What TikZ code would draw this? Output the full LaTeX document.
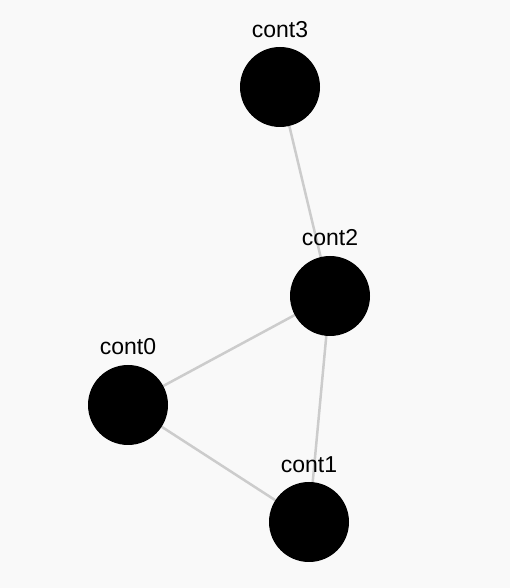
\documentclass[tikz,border=0pt]{standalone}
\usepackage{fontspec}
\setmainfont{Liberation Sans}
\usetikzlibrary{backgrounds}
\definecolor{bgc}{HTML}{F9F9F9}
\definecolor{edgec}{HTML}{CCCCCC}
\tikzset{
  vert/.style={circle, fill=black, minimum size=80pt, inner sep=0pt},
  vlabel/.style={anchor=base, font=\fontsize{23}{25}\selectfont, text=black, inner sep=0pt},
  link/.style={draw=edgec, line width=2.5pt}
}
\begin{document}
\begin{tikzpicture}[x=1pt,y=1pt]
\useasboundingbox (0,0) rectangle (510,588);
\node[vert] (c3) at (280,501) {};
\node[vert] (c2) at (330,292) {};
\node[vert] (c0) at (128,183) {};
\node[vert] (c1) at (309,66) {};
\node[vlabel] (l3) at (280,550) {cont3};
\node[vlabel] (l2) at (330,342) {cont2};
\node[vlabel] (l0) at (128,233) {cont0};
\node[vlabel] (l1) at (309,115) {cont1};
\begin{scope}[on background layer]
\fill[bgc] (0,0) rectangle (510,588);
\draw[link] (c3.center) -- (c2.center);
\draw[link] (c2.center) -- (c0.center);
\draw[link] (c2.center) -- (c1.center);
\draw[link] (c0.center) -- (c1.center);
\end{scope}
\end{tikzpicture}
\end{document}
